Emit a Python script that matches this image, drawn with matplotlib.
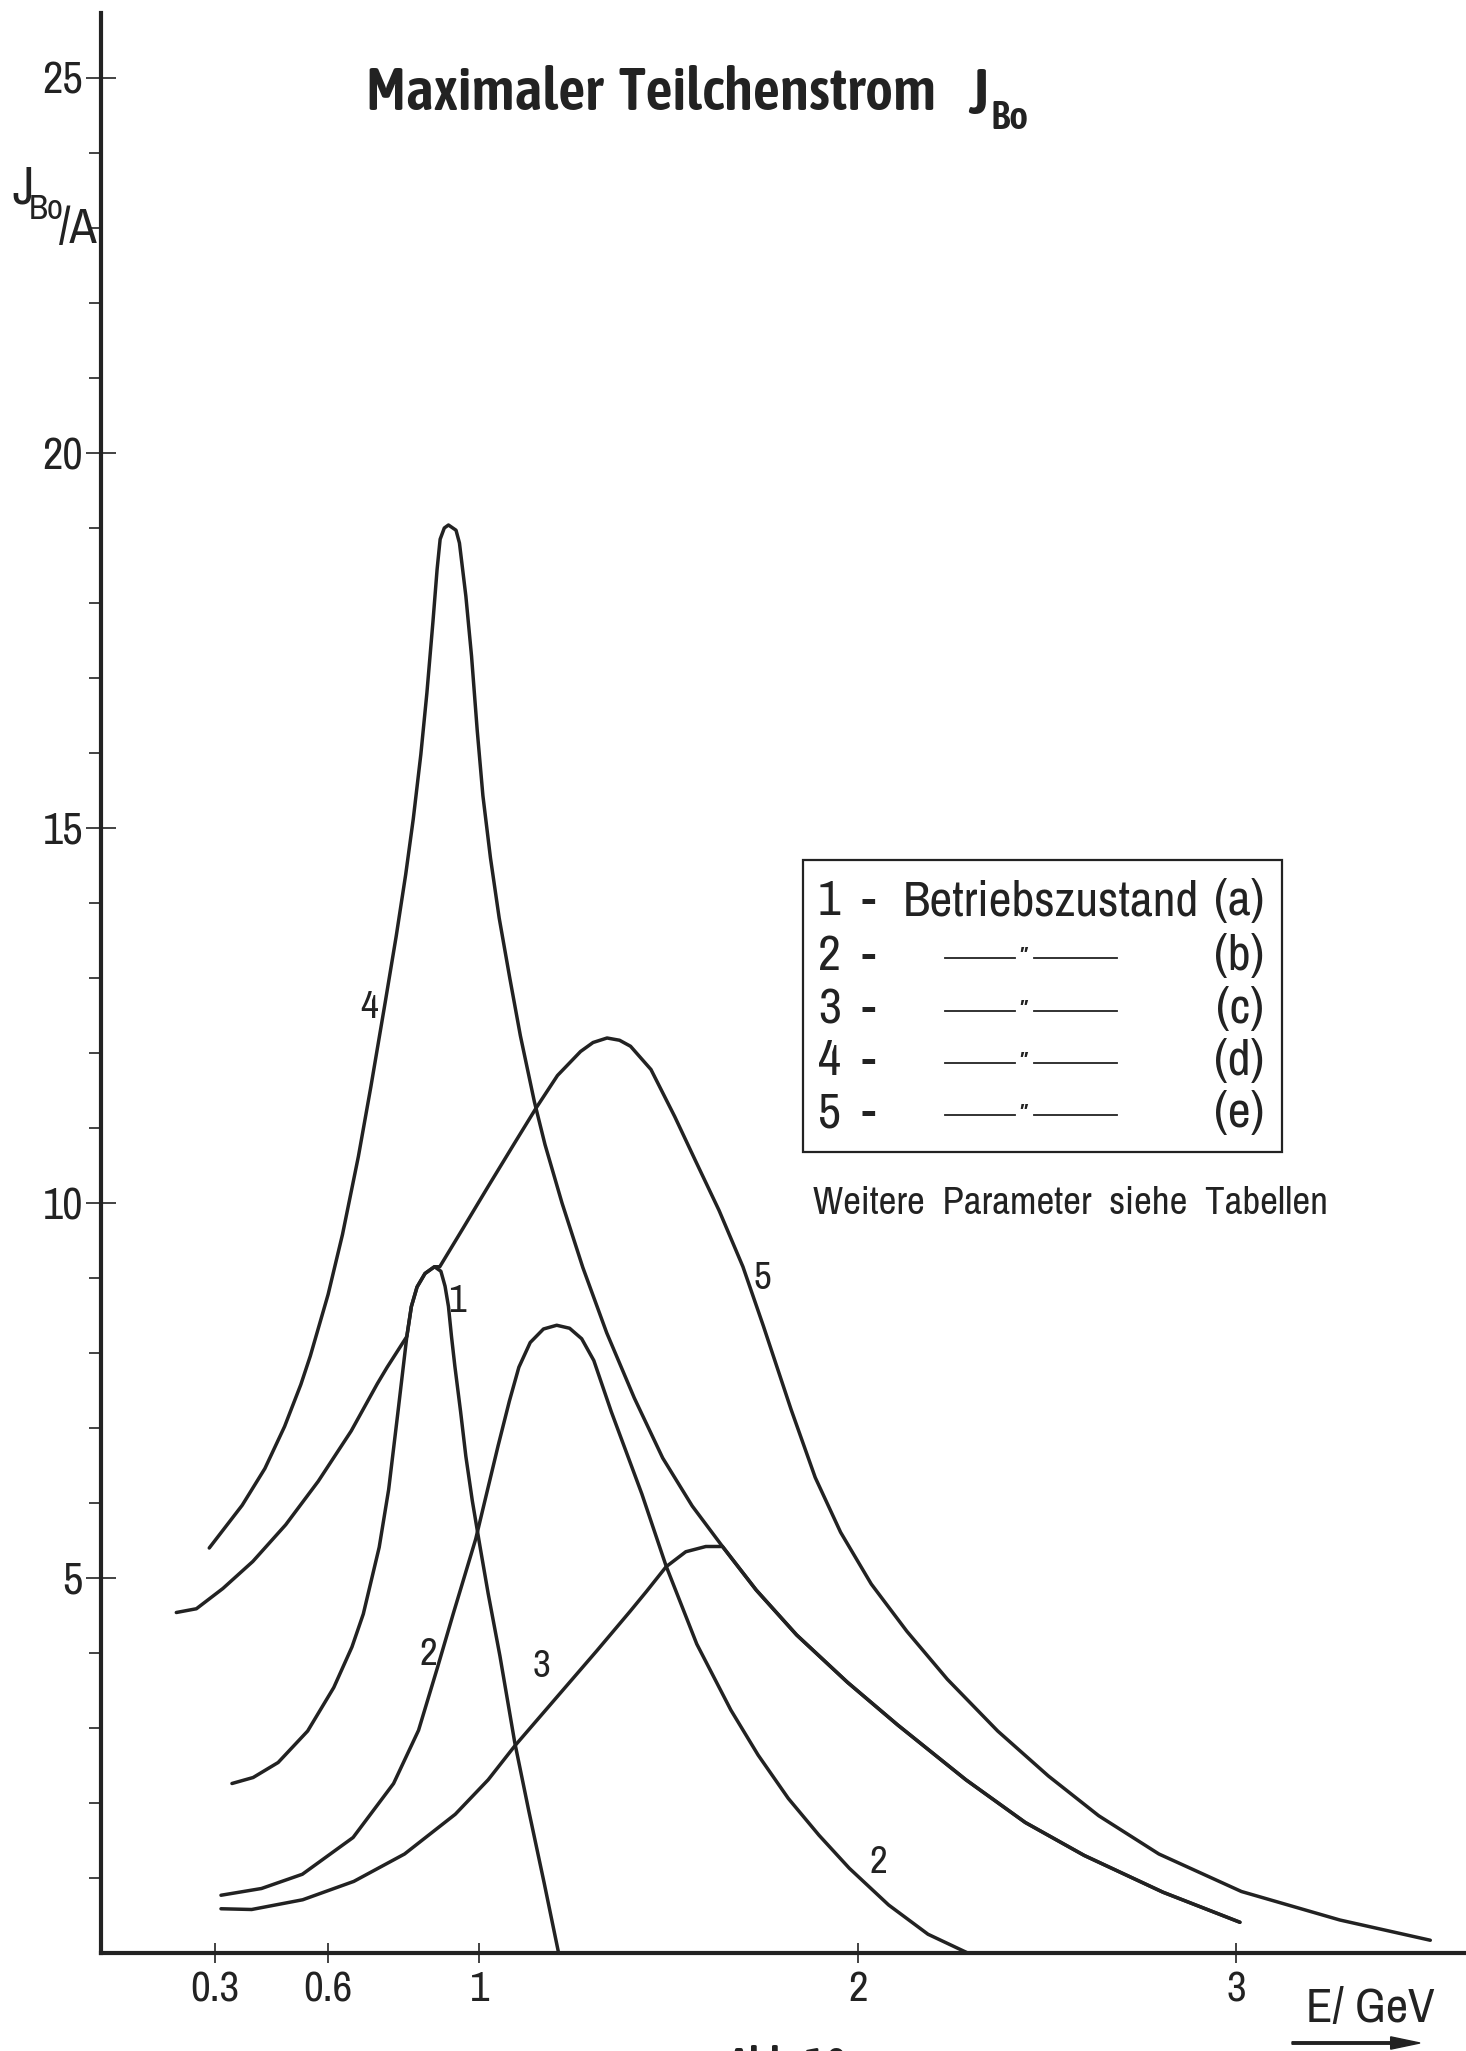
import matplotlib
matplotlib.use("Agg")
import matplotlib.pyplot as plt
from matplotlib.patches import Rectangle, FancyArrow

# energy E in GeV and particle current J_Bo in A
e1 = [0.346, 0.402, 0.468, 0.546, 0.615, 0.663, 0.693, 0.735, 0.760, 0.784, 0.808,
      0.820, 0.835, 0.856, 0.881, 0.898, 0.909, 0.918, 0.926, 0.935, 0.950, 0.964,
      0.981, 1.001, 1.023, 1.054, 1.093, 1.130, 1.171, 1.209]
j1 = [2.26, 2.34, 2.54, 2.96, 3.54, 4.08, 4.52, 5.41, 6.18, 7.19, 8.22,
      8.62, 8.88, 9.06, 9.15, 9.09, 8.89, 8.62, 8.22, 7.82, 7.22, 6.62,
      6.03, 5.43, 4.79, 3.96, 2.81, 1.90, 0.93, 0.0]

e2 = [0.317, 0.424, 0.532, 0.666, 0.773, 0.839, 0.888, 0.931, 0.990, 1.049, 1.079,
      1.104, 1.134, 1.169, 1.204, 1.238, 1.270, 1.302, 1.348, 1.429, 1.493, 1.574,
      1.664, 1.736, 1.816, 1.897, 1.977, 2.081, 2.185, 2.290]
j2 = [0.77, 0.86, 1.05, 1.54, 2.26, 2.97, 3.79, 4.53, 5.52, 6.76, 7.36,
      7.81, 8.14, 8.32, 8.37, 8.33, 8.19, 7.90, 7.22, 6.12, 5.16, 4.12,
      3.24, 2.64, 2.06, 1.57, 1.13, 0.64, 0.25, 0.0]

# curves 3 and 4 run together above ~1.64 GeV
tail_e = [1.731, 1.838, 1.972, 2.105, 2.285, 2.442, 2.598, 2.806, 3.009]
tail_j = [4.84, 4.24, 3.61, 3.04, 2.31, 1.74, 1.30, 0.81, 0.41]

e3 = [0.317, 0.398, 0.533, 0.668, 0.802, 0.936, 1.023, 1.093, 1.216, 1.310, 1.397,
      1.441, 1.493, 1.545, 1.598, 1.642] + tail_e
j3 = [0.59, 0.58, 0.71, 0.955, 1.32, 1.85, 2.31, 2.76, 3.48, 4.03, 4.55,
      4.82, 5.15, 5.35, 5.42, 5.42] + tail_j

e4 = [0.286, 0.373, 0.433, 0.485, 0.528, 0.553, 0.600, 0.638, 0.680, 0.713, 0.751,
      0.780, 0.805, 0.825, 0.845, 0.861, 0.877, 0.888, 0.896, 0.907, 0.918, 0.938,
      0.947, 0.964, 0.979, 0.994, 1.009, 1.029, 1.052, 1.080, 1.108, 1.145, 1.173,
      1.218, 1.273, 1.336, 1.409, 1.484, 1.562, 1.642] + tail_e
j4 = [5.40, 5.97, 6.46, 7.02, 7.58, 7.96, 8.78, 9.58, 10.62, 11.55, 12.68,
      13.56, 14.38, 15.12, 15.98, 16.80, 17.75, 18.45, 18.85, 19.00, 19.04, 18.97,
      18.80, 18.09, 17.29, 16.30, 15.43, 14.60, 13.80, 13.00, 12.23, 11.35, 10.78,
      10.00, 9.14, 8.27, 7.40, 6.60, 5.96, 5.42] + tail_j

e5 = [0.199, 0.252, 0.322, 0.401, 0.488, 0.574, 0.661, 0.730, 0.756, 0.808, 0.820,
      0.835, 0.856, 0.881, 0.895, 0.955, 1.024, 1.094, 1.150, 1.206, 1.267, 1.300,
      1.337, 1.370, 1.399, 1.453, 1.516, 1.570, 1.633, 1.696, 1.750, 1.823, 1.887,
      1.954, 2.035, 2.129, 2.236, 2.369, 2.503, 2.636, 2.795, 3.013, 3.273, 3.512]
j5 = [4.54, 4.59, 4.86, 5.22, 5.71, 6.29, 6.96, 7.59, 7.81, 8.22, 8.62,
      8.88, 9.06, 9.15, 9.15, 9.65, 10.23, 10.81, 11.27, 11.70, 12.02, 12.14,
      12.20, 12.17, 12.09, 11.78, 11.15, 10.57, 9.90, 9.15, 8.36, 7.25, 6.34,
      5.61, 4.92, 4.29, 3.65, 2.96, 2.36, 1.83, 1.32, 0.82, 0.44, 0.17]

curves = [(e1, j1), (e2, j2), (e3, j3), (e4, j4), (e5, j5)]

# curve number labels
lab_text = ["4", "1", "5", "2", "3", "2"]
lab_e = [0.709, 0.941, 1.747, 0.866, 1.163, 2.053]
lab_j = [12.61, 8.69, 8.99, 3.98, 3.82, 1.21]

x_ticks = [0.3, 0.6, 1, 2, 3]
x_ticklabels = ["0.3", "0.6", "1", "2", "3"]
y_ticks = [5, 10, 15, 20, 25]
y_minor = [1, 2, 3, 4, 6, 7, 8, 9, 11, 12, 13, 14, 16, 17, 18, 19, 21, 22, 23, 24]

legend_num = ["1", "2", "3", "4", "5"]
legend_tag = ["(a)", "(b)", "(c)", "(d)", "(e)"]

NARROW = ["Archivo Narrow", "DejaVu Sans"]
BOLD = ["Asap Condensed", "DejaVu Sans"]
INK = "#222222"
plt.rcParams["font.family"] = NARROW

W, H = 1466, 2051
fig = plt.figure(figsize=(W / 100, H / 100), dpi=100)


def fx(px):
    return px / W


def fy(py):
    return 1 - py / H


ax = fig.add_axes([fx(101), fy(1953), fx(1466) - fx(101), fy(13) - fy(1953)])
ax.set_xlim(0, (1466 - 101) / 378.5)
ax.set_ylim(0, (1953 - 13) / 75.0)

for e, j in curves:
    ax.plot(e, j, color=INK, lw=2.5, solid_capstyle="round", solid_joinstyle="round")

for t, x, y in zip(lab_text, lab_e, lab_j):
    ax.text(x, y, t, fontsize=28, ha="center", va="center", color=INK)

for s in ["top", "right"]:
    ax.spines[s].set_visible(False)
for s in ["left", "bottom"]:
    ax.spines[s].set_linewidth(3.0)
    ax.spines[s].set_color(INK)

ax.set_xticks(x_ticks)
ax.set_xticklabels(x_ticklabels)
ax.set_yticks(y_ticks)
ax.set_yticks(y_minor, minor=True)
ax.tick_params(axis="x", direction="inout", length=15, width=1.2, pad=5,
               labelsize=31, colors=INK)
ax.tick_params(axis="y", which="major", direction="inout", length=22, width=1.2, pad=2,
               labelsize=32, colors=INK)
ax.tick_params(axis="y", which="minor", direction="out", length=9, width=1.2, colors=INK)

# title
fig.text(fx(366), fy(110), "Maximaler  Teilchenstrom", fontsize=43, family=BOLD,
         fontweight="semibold", va="baseline", color=INK)
fig.text(fx(968), fy(114), "J", fontsize=46, family=BOLD, fontweight="semibold",
         va="baseline", color=INK)
fig.text(fx(990), fy(129), "Bo", fontsize=29, family=BOLD, fontweight="semibold",
         va="baseline", color=INK)

# y axis label
fig.text(fx(12), fy(203), "J", fontsize=38, va="baseline", color=INK)
fig.text(fx(29), fy(219), "Bo", fontsize=25, va="baseline", color=INK)
fig.text(fx(59), fy(243), "/A", fontsize=36, va="baseline", color=INK)

# x axis label with arrow
fig.text(fx(1306), fy(2022), "E/ GeV", fontsize=35, va="baseline", color=INK)
fig.patches.append(FancyArrow(
    fx(1292), fy(2043), fx(1420) - fx(1292), 0, width=0.0012, head_width=0.006,
    head_length=0.02, length_includes_head=True, color=INK,
    transform=fig.transFigure, figure=fig))
fig.text(fx(727), fy(2045), "Abb. 10", fontsize=32, family=BOLD, fontweight="semibold",
         va="top", color=INK)

# legend box
fig.patches.append(Rectangle((fx(803), fy(1152)), fx(1282) - fx(803), fy(860) - fy(1152),
                             fill=False, lw=1.6, edgecolor=INK,
                             transform=fig.transFigure, figure=fig))
row_y = [915, 970, 1023, 1075, 1127]
for i, (n, tag, ry) in enumerate(zip(legend_num, legend_tag, row_y)):
    fig.text(fx(818), fy(ry), n, fontsize=36, va="baseline", color=INK)
    fig.text(fx(862), fy(ry), "-", fontsize=36, va="baseline", color=INK)
    fig.text(fx(1264), fy(ry), tag, fontsize=36, va="baseline", ha="right", color=INK)
    if i == 0:
        fig.text(fx(903), fy(ry), "Betriebszustand", fontsize=36, va="baseline", color=INK)
    else:
        ly = ry - 12
        fig.add_artist(plt.Line2D([fx(945), fx(1015)], [fy(ly), fy(ly)], lw=1.3,
                                  color=INK, transform=fig.transFigure))
        fig.add_artist(plt.Line2D([fx(1034), fx(1117)], [fy(ly), fy(ly)], lw=1.3,
                                  color=INK, transform=fig.transFigure))
        fig.text(fx(1024), fy(ly + 11), "\u2033", fontsize=22, ha="center", va="baseline",
                 color=INK)

fig.text(fx(813), fy(1214), "Weitere  Parameter  siehe  Tabellen", fontsize=28,
         va="baseline", color=INK)

fig.savefig("out.png", dpi=100)
